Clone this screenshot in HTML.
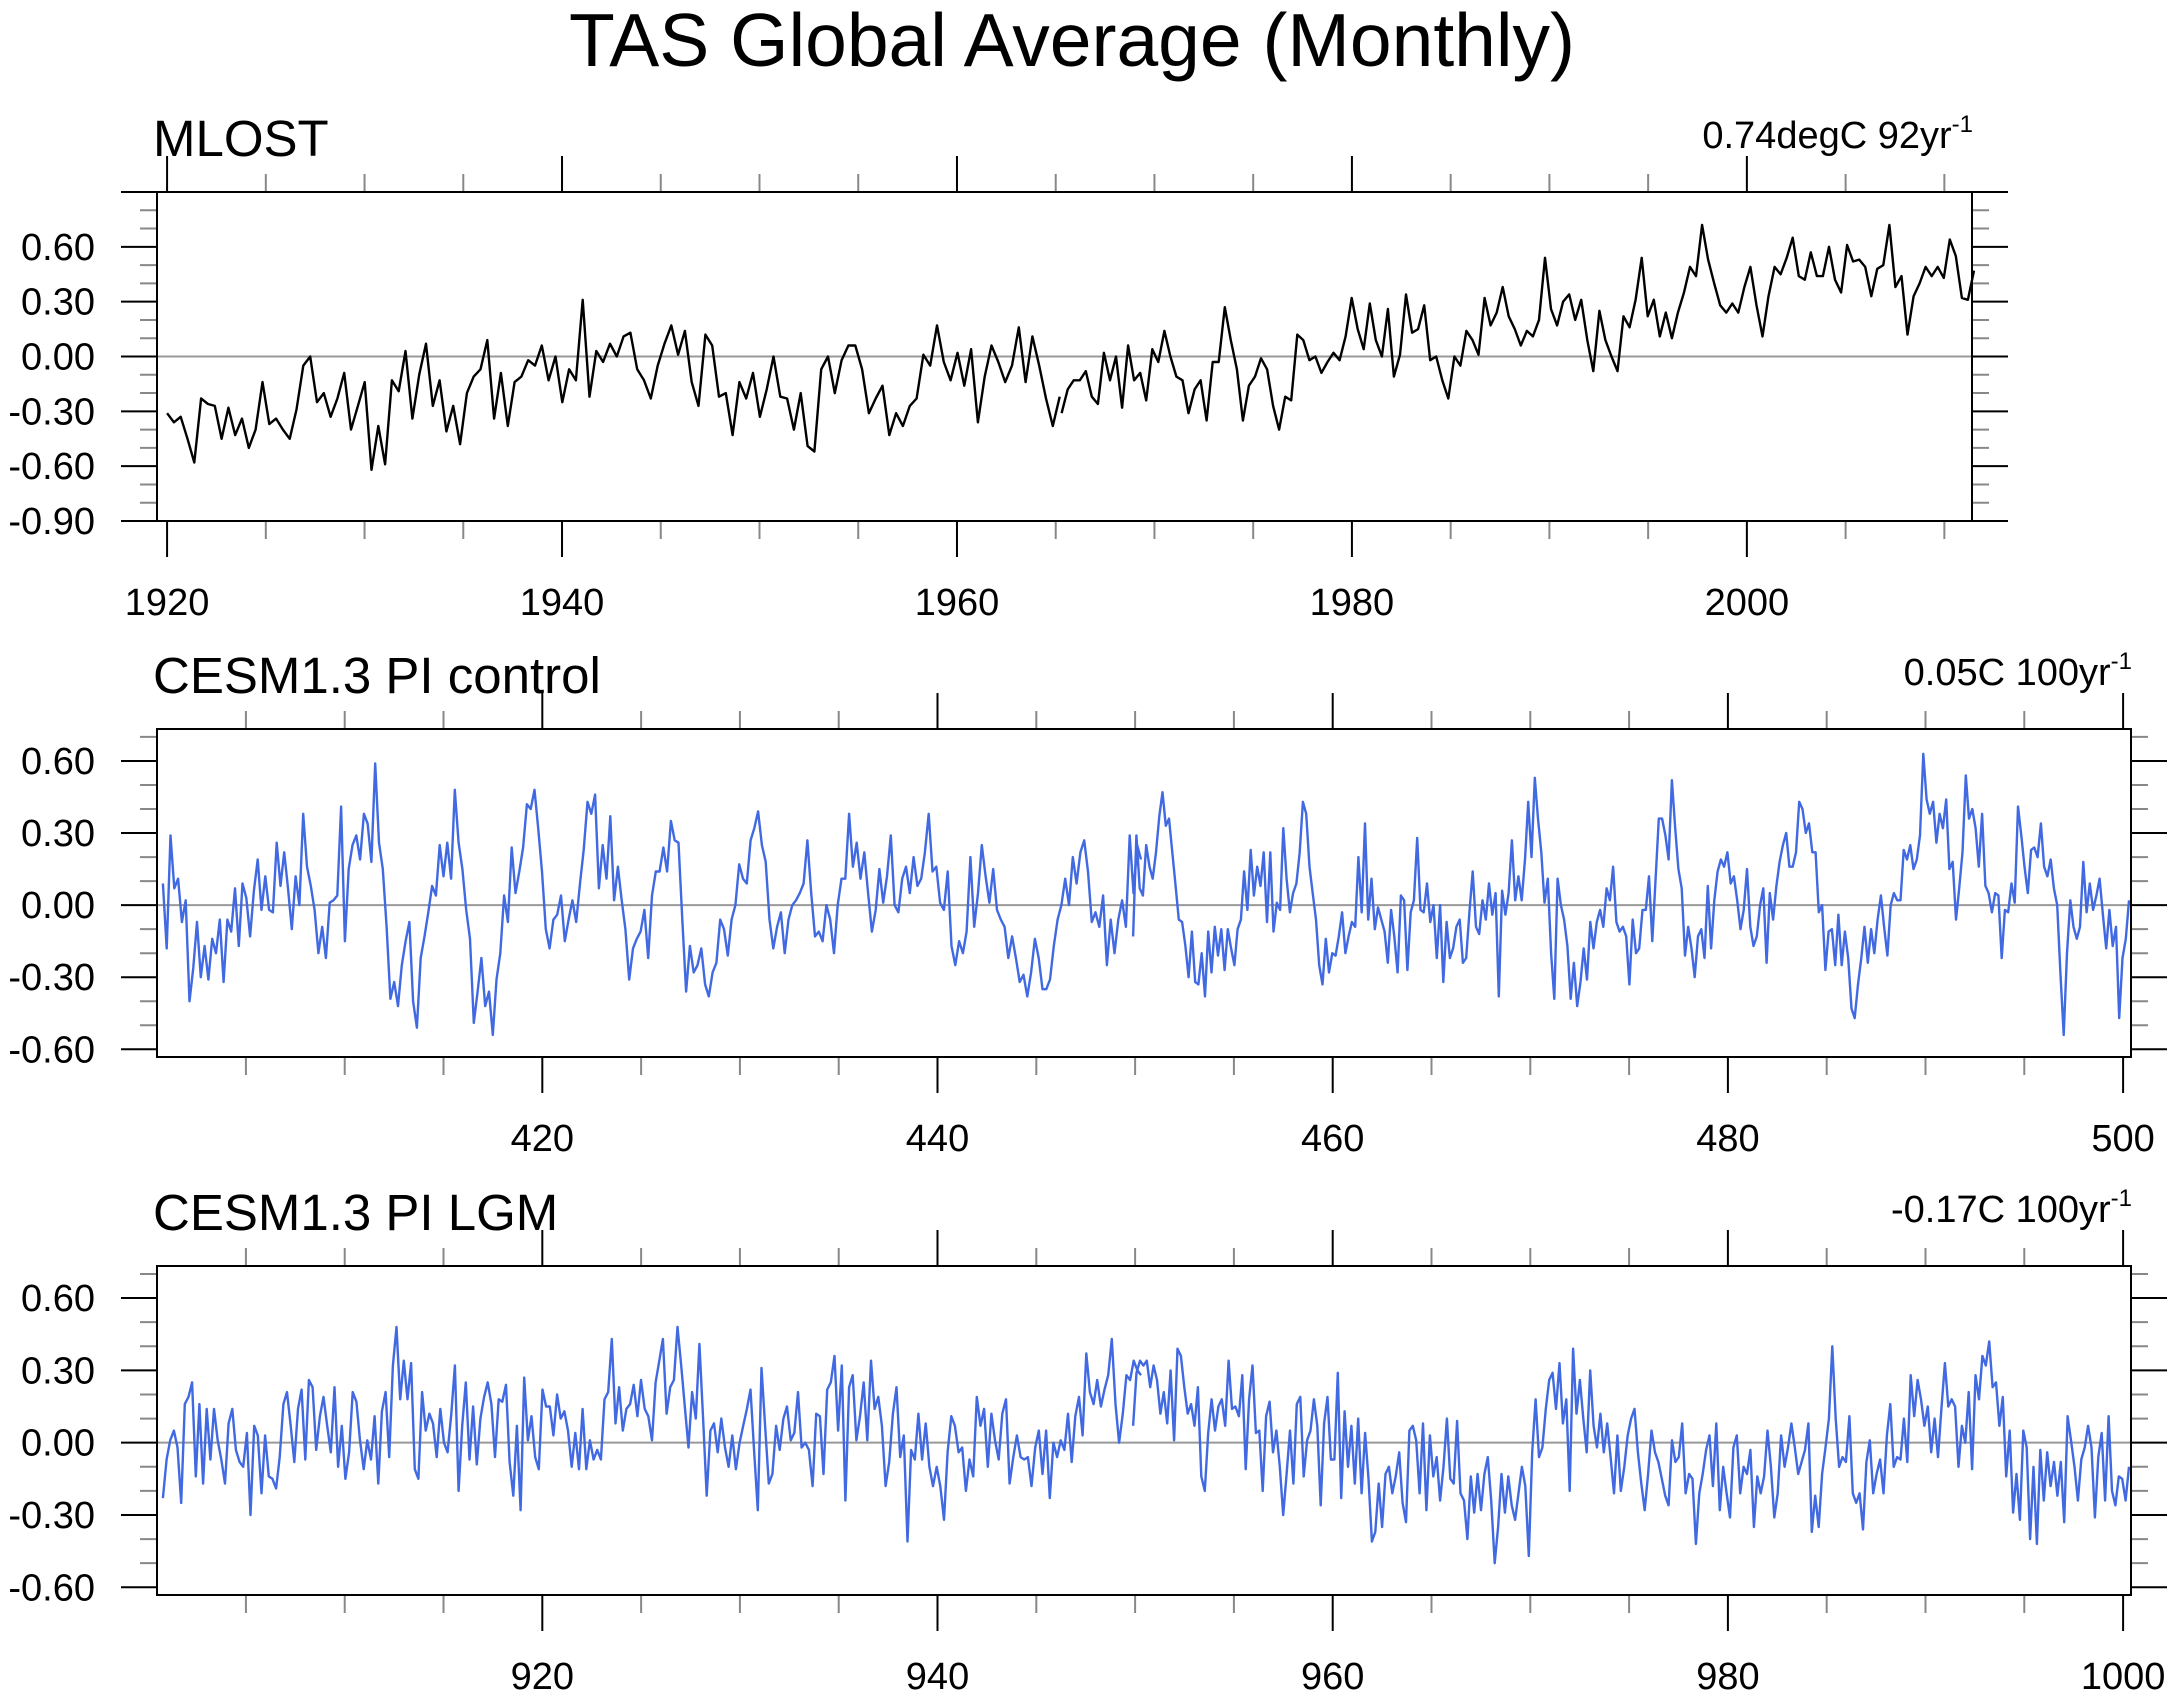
<!DOCTYPE html>
<html><head><meta charset="utf-8"><title>TAS Global Average (Monthly)</title>
<style>html,body{margin:0;padding:0;background:#fff}svg{display:block;font-family:"Liberation Sans",Arial,sans-serif}</style>
</head><body>
<svg id="chart" width="2180" height="1698" viewBox="0 0 2180 1698" xmlns="http://www.w3.org/2000/svg">
<text x="1072" y="66" font-size="75" text-anchor="middle">TAS Global Average (Monthly)</text>
</svg>
<script>
// ---- data ----
const mlostA = [-0.31,-0.36,-0.33,-0.45,-0.58,-0.23,-0.26,-0.27,-0.45,-0.28,-0.43,-0.34,-0.50,-0.40,-0.14,-0.37,-0.34,-0.40,-0.45,-0.29,-0.05,0.00,-0.25,-0.20,-0.33,-0.23,-0.09,-0.40,-0.27,-0.14,-0.62,-0.38,-0.59,-0.13,-0.19,0.03,-0.34,-0.10,0.07,-0.27,-0.13,-0.41,-0.27,-0.48,-0.20,-0.11,-0.07,0.09,-0.34,-0.09,-0.38,-0.14,-0.11,-0.02,-0.05,0.06,-0.13,0.00,-0.25,-0.07,-0.13,0.31,-0.22,0.03,-0.03,0.07,0.00,0.11,0.13,-0.07,-0.13,-0.23,-0.05,0.07,0.17,0.01,0.14,-0.14,-0.27,0.12,0.06,-0.22,-0.20,-0.43,-0.14,-0.23,-0.09,-0.33,-0.18,0.00,-0.22,-0.23,-0.40,-0.20,-0.49,-0.52,-0.07,0.00,-0.20,-0.02,0.06,0.06,-0.07,-0.31,-0.23,-0.16,-0.43,-0.31,-0.38,-0.27,-0.23,0.01,-0.05,0.17,-0.03,-0.13,0.02,-0.16,0.04,-0.36,-0.11,0.06,-0.03,-0.14,-0.05,0.16,-0.14,0.11,-0.05,-0.23,-0.38,-0.22];
const mlostB = [-0.31,-0.18,-0.13,-0.13,-0.08,-0.22,-0.26,0.02,-0.13,0.00,-0.28,0.06,-0.13,-0.09,-0.24,0.04,-0.03,0.14,0.00,-0.11,-0.13,-0.31,-0.18,-0.13,-0.35,-0.03,-0.03,0.27,0.09,-0.07,-0.35,-0.16,-0.11,-0.01,-0.07,-0.27,-0.40,-0.22,-0.24,0.12,0.09,-0.02,0.00,-0.09,-0.03,0.02,-0.02,0.11,0.32,0.15,0.04,0.29,0.09,0.00,0.26,-0.11,0.01,0.34,0.13,0.15,0.28,-0.02,0.00,-0.13,-0.23,0.00,-0.05,0.14,0.09,0.01,0.32,0.17,0.24,0.38,0.22,0.15,0.06,0.14,0.11,0.20,0.54,0.26,0.17,0.30,0.34,0.20,0.31,0.09,-0.08,0.25,0.09,0.00,-0.08,0.22,0.16,0.31,0.54,0.22,0.31,0.11,0.24,0.10,0.24,0.35,0.49,0.44,0.72,0.53,0.40,0.28,0.24,0.29,0.24,0.38,0.49,0.28,0.11,0.33,0.49,0.45,0.54,0.65,0.44,0.42,0.57,0.44,0.44,0.60,0.42,0.35,0.61,0.52,0.53,0.49,0.33,0.48,0.50,0.72,0.38,0.44,0.12,0.33,0.40,0.49,0.44,0.49,0.43,0.64,0.55,0.32,0.31,0.47];
const ctrlA = [0.09,-0.18,0.29,0.07,0.11,-0.07,0.02,-0.40,-0.26,-0.07,-0.30,-0.17,-0.31,-0.14,-0.20,-0.06,-0.32,-0.06,-0.11,0.07,-0.17,0.09,0.03,-0.13,0.06,0.19,-0.02,0.12,-0.02,-0.03,0.26,0.08,0.22,0.07,-0.10,0.12,0.00,0.38,0.16,0.08,-0.02,-0.20,-0.09,-0.22,0.01,0.02,0.04,0.41,-0.15,0.15,0.25,0.29,0.19,0.38,0.34,0.18,0.59,0.26,0.15,-0.09,-0.39,-0.32,-0.42,-0.25,-0.15,-0.07,-0.40,-0.51,-0.22,-0.13,-0.03,0.08,0.04,0.25,0.12,0.26,0.11,0.48,0.26,0.15,-0.02,-0.14,-0.49,-0.36,-0.22,-0.42,-0.36,-0.54,-0.31,-0.20,0.04,-0.07,0.24,0.05,0.14,0.24,0.42,0.40,0.48,0.32,0.14,-0.10,-0.18,-0.06,-0.04,0.04,-0.15,-0.06,0.02,-0.07,0.09,0.23,0.43,0.38,0.46,0.07,0.25,0.11,0.37,0.02,0.16,0.02,-0.10,-0.31,-0.18,-0.14,-0.11,-0.02,-0.22,0.04,0.14,0.14,0.24,0.14,0.35,0.27,0.26,-0.06,-0.36,-0.17,-0.28,-0.25,-0.18,-0.33,-0.38,-0.28,-0.24,-0.06,-0.10,-0.21,-0.06,0.00,0.17,0.11,0.09,0.27,0.32,0.39,0.25,0.18,-0.06,-0.18,-0.09,-0.03,-0.20,-0.06,0.00,0.02,0.05,0.09,0.27,0.05,-0.13,-0.11,-0.15,0.00,-0.06,-0.20,0.00,0.11,0.11,0.38,0.16,0.26,0.11,0.22,0.05,-0.11,-0.02,0.15,0.01,0.12,0.29,0.00,-0.03,0.11,0.16,0.05,0.20,0.08,0.11,0.22,0.38,0.14,0.16,0.01,-0.02,0.14,-0.17,-0.25,-0.15,-0.20,-0.11,0.20,-0.09,0.05,0.25,0.12,0.01,0.15,-0.02,-0.06,-0.09,-0.22,-0.13,-0.22,-0.32,-0.29,-0.38,-0.28,-0.14,-0.22,-0.35,-0.35,-0.31,-0.17,-0.06,0.00,0.11,0.00,0.20,0.09,0.22,0.27,0.14,-0.07,-0.03,-0.09,0.04,-0.25,-0.06,-0.20,-0.06,0.02,-0.09,0.29,0.05,0.25,0.19];
const ctrlB = [-0.13,0.29,0.07,0.04,0.25,0.16,0.11,0.22,0.37,0.47,0.33,0.36,0.22,0.08,-0.06,-0.07,-0.17,-0.30,-0.11,-0.32,-0.33,-0.20,-0.38,-0.11,-0.28,-0.09,-0.21,-0.10,-0.27,-0.10,-0.18,-0.25,-0.10,-0.06,0.14,-0.02,0.23,0.04,0.16,0.08,0.22,-0.07,0.22,-0.11,0.01,-0.02,0.32,0.11,-0.03,0.05,0.09,0.22,0.43,0.38,0.16,0.05,-0.06,-0.25,-0.33,-0.14,-0.28,-0.20,-0.21,-0.13,-0.03,-0.20,-0.13,-0.07,-0.09,0.20,-0.03,0.34,-0.06,0.11,-0.10,-0.01,-0.06,-0.11,-0.24,-0.02,-0.13,-0.28,0.04,0.02,-0.27,-0.03,0.02,0.28,-0.02,-0.03,0.09,-0.07,0.00,-0.22,0.00,-0.32,-0.07,-0.22,-0.18,-0.09,-0.06,-0.24,-0.22,-0.03,0.14,-0.09,-0.12,0.02,-0.06,0.09,-0.04,0.05,-0.38,0.06,-0.04,0.05,0.27,0.02,0.12,0.02,0.19,0.43,0.20,0.53,0.36,0.22,0.01,0.11,-0.20,-0.39,0.11,0.00,-0.06,-0.17,-0.39,-0.24,-0.42,-0.32,-0.18,-0.31,-0.07,-0.18,-0.07,-0.02,-0.09,0.07,0.02,0.16,-0.07,-0.11,-0.09,-0.13,-0.33,-0.06,-0.20,-0.18,-0.02,-0.02,0.12,-0.15,0.11,0.36,0.36,0.29,0.19,0.52,0.32,0.15,0.07,-0.21,-0.09,-0.18,-0.30,-0.13,-0.10,-0.22,0.08,-0.18,0.02,0.14,0.19,0.16,0.22,0.09,0.12,0.02,-0.10,-0.02,0.15,-0.09,-0.17,-0.13,0.00,0.07,-0.24,0.05,-0.06,0.08,0.18,0.25,0.30,0.16,0.16,0.22,0.43,0.40,0.30,0.34,0.22,0.22,-0.03,0.00,-0.27,-0.11,-0.10,-0.25,-0.04,-0.25,-0.11,-0.22,-0.43,-0.47,-0.33,-0.22,-0.09,-0.24,-0.10,-0.20,-0.06,0.04,-0.09,-0.21,0.00,0.05,0.02,0.02,0.23,0.19,0.25,0.15,0.19,0.29,0.63,0.44,0.38,0.43,0.26,0.38,0.32,0.44,0.15,0.18,-0.06,0.07,0.22,0.54,0.36,0.40,0.32,0.16,0.38,0.08,0.05,-0.03,0.05,0.04,-0.22,-0.02,-0.03,0.09,0.01,0.41,0.29,0.16,0.05,0.23,0.24,0.20,0.34,0.16,0.12,0.19,0.07,0.00,-0.29,-0.54,-0.20,0.02,-0.09,-0.14,-0.09,0.18,-0.03,0.09,-0.02,0.04,0.11,-0.04,-0.18,-0.02,-0.17,-0.09,-0.47,-0.22,-0.14,0.02];
const lgmA = [-0.23,-0.07,0.01,0.05,-0.02,-0.25,0.16,0.19,0.25,-0.14,0.16,-0.17,0.14,-0.07,0.14,0.01,-0.07,-0.17,0.08,0.14,-0.03,-0.08,-0.10,0.04,-0.30,0.07,0.03,-0.21,0.03,-0.14,-0.15,-0.19,-0.06,0.16,0.21,0.07,-0.08,0.14,0.22,-0.07,0.26,0.23,-0.03,0.11,0.19,0.07,-0.04,0.23,-0.10,0.07,-0.15,-0.04,0.21,0.17,0.01,-0.11,0.01,-0.07,0.11,-0.17,0.13,0.21,-0.06,0.32,0.48,0.18,0.34,0.18,0.33,-0.11,-0.15,0.21,0.05,0.12,0.08,-0.06,0.14,0.00,-0.04,0.12,0.32,-0.20,0.07,0.25,-0.07,0.15,-0.09,0.10,0.19,0.25,0.16,-0.06,0.18,0.17,0.24,-0.08,-0.22,0.07,-0.28,0.27,0.01,0.11,-0.06,-0.11,0.22,0.15,0.15,0.03,0.20,0.10,0.13,0.05,-0.10,0.04,-0.11,0.14,-0.11,0.01,-0.07,-0.03,-0.07,0.18,0.21,0.43,0.08,0.23,0.05,0.14,0.16,0.24,0.11,0.26,0.14,0.11,0.01,0.25,0.34,0.43,0.12,0.23,0.26,0.48,0.32,0.15,-0.02,0.21,0.10,0.41,0.10,-0.22,0.05,0.08,-0.04,0.10,-0.02,-0.10,0.03,-0.11,0.00,0.07,0.14,0.22,-0.04,-0.28,0.31,0.07,-0.17,-0.13,0.07,-0.03,0.10,0.15,0.01,0.04,0.21,-0.02,0.00,-0.03,-0.18,0.12,0.11,-0.13,0.22,0.25,0.36,0.05,0.32,-0.24,0.23,0.28,0.01,0.11,0.25,0.01,0.34,0.14,0.19,0.07,-0.18,-0.08,0.12,0.23,-0.06,0.03,-0.41,-0.03,-0.07,0.12,-0.07,0.08,-0.10,-0.18,-0.10,-0.18,-0.32,-0.04,0.11,0.07,-0.04,-0.02,-0.20,-0.07,-0.14,0.19,0.07,0.14,-0.10,0.12,0.01,-0.07,0.12,0.18,-0.17,-0.06,0.03,-0.06,-0.07,-0.06,-0.18,-0.02,0.05,-0.13,0.05,-0.23,0.00,-0.06,0.01,-0.03,0.12,-0.08,0.11,0.19,0.03,0.37,0.21,0.16,0.26,0.15,0.22,0.28,0.43,0.16,0.00,0.12,0.28,0.26,0.34,0.30,0.28];
const lgmB = [0.07,0.29,0.34,0.32,0.34,0.23,0.32,0.26,0.12,0.21,0.08,0.30,0.01,0.39,0.36,0.23,0.12,0.16,0.07,0.23,-0.14,-0.20,0.04,0.18,0.05,0.15,0.18,0.07,0.34,0.14,0.15,0.11,0.28,-0.11,0.18,0.32,0.04,0.05,-0.20,0.11,0.17,-0.04,0.05,-0.10,-0.30,-0.13,0.05,-0.17,0.16,0.19,-0.14,0.01,0.05,0.18,0.07,-0.26,0.08,0.19,-0.07,-0.07,0.29,-0.23,0.13,-0.10,0.07,-0.17,0.10,-0.21,0.04,-0.15,-0.41,-0.37,-0.17,-0.35,-0.13,-0.10,-0.21,-0.14,-0.04,-0.25,-0.33,0.05,0.07,0.01,-0.21,0.08,-0.28,0.03,-0.14,-0.06,-0.24,-0.10,0.10,-0.15,-0.17,0.09,-0.21,-0.24,-0.40,-0.14,-0.29,-0.13,-0.28,-0.13,-0.06,-0.24,-0.50,-0.35,-0.13,-0.29,-0.14,-0.26,-0.32,-0.21,-0.10,-0.18,-0.47,-0.04,0.18,-0.06,-0.02,0.14,0.26,0.29,0.14,0.33,0.08,0.18,-0.20,0.39,0.12,0.26,0.10,-0.04,0.30,0.07,-0.02,0.12,-0.04,0.08,-0.06,-0.21,0.03,-0.20,-0.10,0.03,0.10,0.14,-0.04,-0.17,-0.28,-0.13,0.05,-0.04,-0.08,-0.15,-0.22,-0.26,0.01,-0.08,-0.06,0.08,-0.21,-0.13,-0.15,-0.42,-0.21,-0.13,-0.03,0.03,-0.18,0.08,-0.28,-0.10,-0.21,-0.31,-0.02,0.03,-0.21,-0.10,-0.13,-0.03,-0.35,-0.14,-0.21,-0.14,0.05,-0.10,-0.31,-0.21,0.03,-0.10,-0.02,0.08,-0.02,-0.13,-0.08,-0.03,0.08,-0.37,-0.22,-0.35,-0.13,-0.02,0.10,0.40,0.10,-0.10,-0.06,-0.08,0.11,-0.21,-0.25,-0.21,-0.36,-0.08,0.01,-0.21,-0.13,-0.07,-0.21,0.03,0.16,-0.10,-0.06,-0.07,0.10,-0.08,0.28,0.11,0.26,0.18,0.07,0.15,-0.04,0.10,-0.06,0.14,0.33,0.15,0.18,0.15,-0.10,0.07,0.00,0.21,-0.11,0.28,0.18,0.36,0.32,0.42,0.23,0.25,0.07,0.19,-0.14,0.05,-0.29,-0.13,-0.32,0.05,-0.02,-0.40,-0.10,-0.42,-0.03,-0.24,-0.04,-0.18,-0.08,-0.22,-0.08,-0.33,0.11,0.01,-0.10,-0.24,-0.07,-0.02,0.07,-0.02,-0.31,-0.06,0.04,-0.24,0.11,-0.20,-0.26,-0.14,-0.15,-0.24,-0.10];
const yTicks1 = [-0.9,-0.6,-0.3,0,0.3,0.6];
const yTickLabels1 = ["-0.90","-0.60","-0.30","0.00","0.30","0.60"];
const yTicks23 = [-0.6,-0.3,0,0.3,0.6];
const yTickLabels23 = ["-0.60","-0.30","0.00","0.30","0.60"];
const xTicks1 = [1920,1940,1960,1980,2000];
const xTicks2 = [420,440,460,480,500];
const xTicks3 = [920,940,960,980,1000];
const titles = ["MLOST","CESM1.3 PI control","CESM1.3 PI LGM"];
const trendVals = ["0.74degC 92yr","0.05C 100yr","-0.17C 100yr"];

// ---- layout ----
const NS = "http://www.w3.org/2000/svg";
const svg = document.getElementById('chart');
function mk(tag, attrs, parent){const e=document.createElementNS(NS,tag);for(const k in attrs)e.setAttribute(k,attrs[k]);(parent||svg).appendChild(e);return e;}

const panels = [
 {l:157,r:1972,t:192,b:521,x0:1919.49,x1:2011.4,y0:-0.9,y1:0.9,xt:xTicks1,yt:yTicks1,yl:yTickLabels1,
  series:[{v:mlostA,s:1920.0,e:1965.2},{v:mlostB,s:1965.3,e:2011.5}],color:"#000",key:"mlost"},
 {l:157,r:2131,t:729,b:1057,x0:400.5,x1:500.4,y0:-0.632,y1:0.733,xt:xTicks2,yt:yTicks23,yl:yTickLabels23,
  series:[{v:ctrlA,s:400.8,e:450.3},{v:ctrlB,s:449.9,e:500.3}],color:"#4169e1",key:"pi-control"},
 {l:157,r:2131,t:1266,b:1595,x0:900.5,x1:1000.4,y0:-0.632,y1:0.733,xt:xTicks3,yt:yTicks23,yl:yTickLabels23,
  series:[{v:lgmA,s:900.8,e:950.3},{v:lgmB,s:949.9,e:1000.3}],color:"#4169e1",key:"pi-lgm"}
];

panels.forEach((p,pi)=>{
  const g = mk('g',{});
  
  
  const X = v => p.l + (v - p.x0)/(p.x1 - p.x0)*(p.r - p.l);
  const Y = v => p.b - (v - p.y0)/(p.y1 - p.y0)*(p.b - p.t);
  const z = mk('line',{x1:p.l,x2:p.r,y1:Y(0),y2:Y(0),stroke:"#999","stroke-width":2},g);
  
  
  for(let k=Math.ceil(p.y0*10);k<=Math.floor(p.y1*10);k++){
    const v=k/10, y=Y(v); const major = Math.abs(Math.round(v*10/3)*3 - v*10) < 1e-6;
    const len = major?36:17, col = major?"#000":"#888";
    mk('line',{x1:p.l-len,x2:p.l,y1:y,y2:y,stroke:col,"stroke-width":2},g);
    mk('line',{x1:p.r,x2:p.r+len,y1:y,y2:y,stroke:col,"stroke-width":2},g);
  }
  for(let k=Math.ceil(p.x0/5);k*5<=p.x1;k++){
    const v=k*5, x=X(v); const major = v%20===0;
    const len = major?36:18, col = major?"#000":"#888";
    mk('line',{x1:x,x2:x,y1:p.t-len,y2:p.t,stroke:col,"stroke-width":2},g);
    mk('line',{x1:x,x2:x,y1:p.b,y2:p.b+len,stroke:col,"stroke-width":2},g);
  }
  p.yt.forEach((v,i)=>{
    const t = mk('text',{x:95,y:Y(v)+13,"font-size":38,"text-anchor":"end"},g);
    t.textContent = p.yl[i];
    
    
  });
  p.xt.forEach(v=>{
    const t = mk('text',{x:X(v),y:p.b+94,"font-size":38,"text-anchor":"middle"},g);
    t.textContent = String(v);
    
    
  });
  p.series.forEach((s,si)=>{
    const n = s.v.length;
    const pts = s.v.map((v,i)=>X(s.s + (s.e - s.s)*i/(n-1)).toFixed(1)+','+Y(v).toFixed(1)).join(' ');
    const pl = mk('polyline',{points:pts,fill:"none",stroke:p.color,"stroke-width":2.4,"stroke-linejoin":"round"},g);
    
    
  });
  const fr = mk('rect',{x:p.l,y:p.t,width:p.r-p.l,height:p.b-p.t,fill:"none",stroke:"#000","stroke-width":2},g);
  
  
  const tt = mk('text',{x:153,y:p.t-36,"font-size":51},g);
  tt.textContent = titles[pi];
  
  
  const tr = mk('text',{x:p.r+1,y:p.t-44,"font-size":38,"text-anchor":"end"},g);
  tr.textContent = trendVals[pi];
  const sup = mk('tspan',{dy:-16,"font-size":24},tr);
  sup.textContent = "-1";
  
  
});
</script>
</body></html>
